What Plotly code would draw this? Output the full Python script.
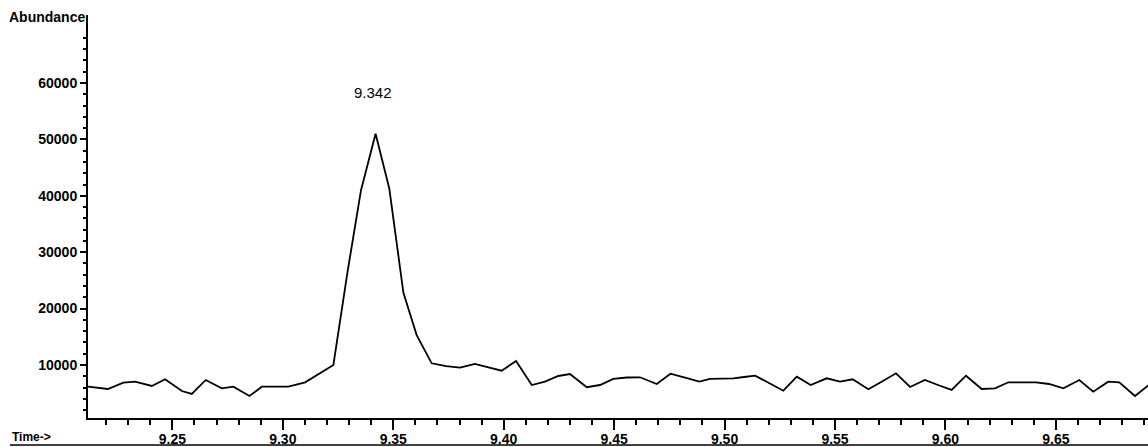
import plotly.graph_objects as go

# Extracted ion chromatogram around the 9.342 min peak
times = [9.2118, 9.2208, 9.2278, 9.2331, 9.2407, 9.2467, 9.2543, 9.2588, 9.2651, 9.2724,
         9.2776, 9.2849, 9.2905, 9.2965, 9.3025, 9.3101, 9.3164, 9.3229, 9.3293, 9.3354,
         9.3420, 9.3482, 9.3546, 9.3606, 9.3674, 9.3739, 9.3802, 9.3870, 9.3931, 9.3991,
         9.4056, 9.4127, 9.4187, 9.4247, 9.4300, 9.4376, 9.4436, 9.4496, 9.4557, 9.4617,
         9.4693, 9.4755, 9.4821, 9.4886, 9.4934, 9.4986, 9.5040, 9.5088, 9.5138, 9.5201,
         9.5266, 9.5327, 9.5390, 9.5462, 9.5523, 9.5580, 9.5651, 9.5713, 9.5776, 9.5840,
         9.5907, 9.5966, 9.6028, 9.6093, 9.6164, 9.6224, 9.6285, 9.6347, 9.6410, 9.6469,
         9.6534, 9.6606, 9.6669, 9.6737, 9.6787, 9.6858, 9.6926]

abundance = [6150, 5750, 6860, 7040, 6280, 7460, 5390, 4860, 7340, 5870,
             6150, 4500, 6150, 6150, 6150, 6930, 8400, 10000, 26500, 41000,
             51000, 41300, 22800, 15300, 10300, 9800, 9520, 10180, 9560, 8990,
             10710, 6450, 7040, 8050, 8400, 6050, 6450, 7520, 7780, 7820,
             6630, 8460, 7750, 7040, 7520, 7590, 7640, 7870, 8100, 6810,
             5440, 7930, 6450, 7640, 7040, 7460, 5690, 7070, 8530, 6100,
             7340, 6450, 5570, 8100, 5750, 5870, 6930, 6930, 6930, 6630,
             5870, 7340, 5270, 7040, 6930, 4500, 6630]

peak_time = 9.342
peak_abundance = 51000

x_ticks = [9.25, 9.30, 9.35, 9.40, 9.45, 9.50, 9.55, 9.60, 9.65]
x_tick_labels = ["9.25", "9.30", "9.35", "9.40", "9.45", "9.50", "9.55", "9.60", "9.65"]
y_ticks = [10000, 20000, 30000, 40000, 50000, 60000]
y_minor_ticks = [v for v in range(2000, 70000, 2000) if v % 10000 != 0]

FONT = "Liberation Sans, Arial, sans-serif"

fig = go.Figure()
fig.add_trace(go.Scatter(
    x=times, y=abundance, mode="lines",
    line=dict(color="black", width=1.8),
    hoverinfo="skip", showlegend=False,
))

fig.add_annotation(
    x=peak_time, y=peak_abundance, text=f"{peak_time:.3f}",
    showarrow=False, yshift=41, xshift=-3,
    font=dict(family=FONT, size=15, color="black"),
)
fig.add_annotation(
    xref="paper", yref="paper", x=0, y=1, xanchor="right", yanchor="middle",
    xshift=-1, yshift=-2, text="Abundance", showarrow=False,
    font=dict(family=FONT, size=14, color="black", weight="bold"),
)
fig.add_annotation(
    xref="paper", yref="paper", x=-0.0736, y=0, xanchor="left", yanchor="middle",
    yshift=-19, text="Time->", showarrow=False,
    font=dict(family=FONT, size=12, color="black", weight="bold"),
)
# baseline rule running under the time labels
fig.add_shape(
    type="line", xref="paper", yref="paper",
    x0=-0.0736, x1=1, y0=-0.067, y1=-0.067,
    line=dict(color="black", width=1.5),
)

fig.update_xaxes(
    range=[9.2118, 9.6917],
    tickmode="array", tickvals=x_ticks, ticktext=x_tick_labels,
    ticks="outside", ticklen=10, tickwidth=1.5, tickcolor="black",
    ticklabelstandoff=-3,
    minor=dict(tickmode="linear", tick0=9.2, dtick=0.01, ticks="outside",
               ticklen=5, tickwidth=1.5, tickcolor="black"),
    showline=True, linecolor="black", linewidth=2,
    showgrid=False, zeroline=False,
    tickfont=dict(family=FONT, size=14, color="black", weight="bold"),
)
fig.update_yaxes(
    range=[600, 72060],
    tickmode="array", tickvals=y_ticks, ticktext=[str(v) for v in y_ticks],
    ticks="outside", ticklen=6, tickwidth=1.5, tickcolor="black",
    minor=dict(tickmode="array", tickvals=y_minor_ticks, ticks="outside",
               ticklen=3, tickwidth=1.5, tickcolor="black"),
    showline=True, linecolor="black", linewidth=2,
    showgrid=False, zeroline=False,
    tickfont=dict(family=FONT, size=14, color="black", weight="bold"),
)

fig.update_layout(
    width=1148, height=447,
    margin=dict(l=88, r=0, t=15, b=29),
    paper_bgcolor="white", plot_bgcolor="white",
)

fig.write_html("out.html")
